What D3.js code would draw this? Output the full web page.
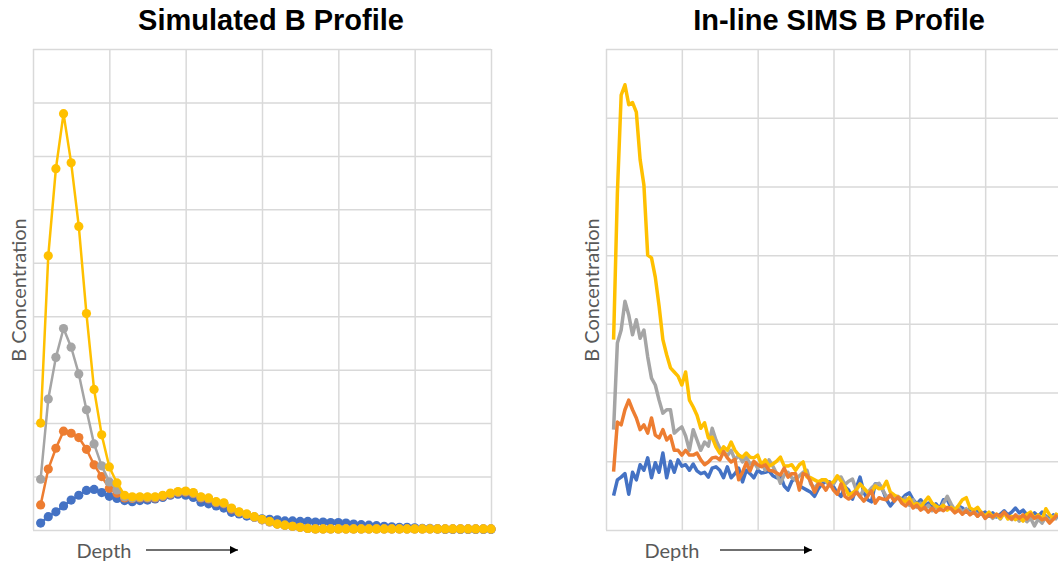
<!DOCTYPE html>
<html>
<head>
<meta charset="utf-8">
<script src="https://cdn.jsdelivr.net/npm/d3@7"></script>
<style>
  body { margin: 0; background: #fff; overflow: hidden; }
  .title { font-family: "Liberation Sans", Arial, sans-serif; font-weight: bold; font-size: 29px; fill: #000; }
  .axis-label { font-family: Lato, "Noto Sans", sans-serif; font-size: 20px; fill: #595959; }
  .grid line { stroke: #d9d9d9; stroke-width: 1.5; }
</style>
</head>
<body>
<svg id="chart" width="1058" height="565"></svg>
<script>
// series order: blue, orange, gray, yellow (Excel default palette)
var seriesColors = ["#4472C4", "#ED7D31", "#A5A5A5", "#FFC000"];

// ---- Simulated profile (60 depth steps) ----
var simDepth = d3.range(1, 61);
var simBlue = [0.13,0.25,0.34,0.45,0.56,0.65,0.74,0.76,0.70,0.63,
  0.59,0.55,0.53,0.55,0.56,0.58,0.61,0.65,0.67,0.65,
  0.61,0.52,0.49,0.45,0.41,0.33,0.30,0.26,0.24,0.21,
  0.20,0.19,0.17,0.17,0.16,0.16,0.15,0.15,0.14,0.14,
  0.13,0.11,0.10,0.09,0.08,0.07,0.06,0.05,0.05,0.04,
  0.03,0.03,0.02,0.01,0.01,0.01,0.01,0.01,0.01,0.01];
var simOrange = [0.47,1.14,1.53,1.85,1.81,1.73,1.51,1.22,1.00,0.78,
  0.69,0.60,0.59,0.60,0.60,0.60,0.63,0.67,0.70,0.71,
  0.68,0.60,0.58,0.51,0.49,0.39,0.33,0.29,0.24,0.19,
  0.15,0.11,0.09,0.07,0.05,0.03,0.02,0.02,0.02,0.02,
  0.02,0.02,0.02,0.02,0.02,0.02,0.02,0.02,0.02,0.02,
  0.02,0.02,0.02,0.02,0.02,0.02,0.02,0.02,0.02,0.02];
var simGray = [0.95,2.45,3.23,3.77,3.42,2.92,2.25,1.61,1.20,0.90,
  0.75,0.62,0.60,0.61,0.61,0.61,0.64,0.68,0.71,0.72,
  0.69,0.61,0.59,0.52,0.50,0.40,0.33,0.29,0.24,0.19,
  0.15,0.11,0.09,0.07,0.05,0.03,0.02,0.02,0.02,0.02,
  0.02,0.02,0.02,0.02,0.02,0.02,0.02,0.02,0.02,0.02,
  0.02,0.02,0.02,0.02,0.02,0.02,0.02,0.02,0.02,0.02];
var simYellow = [2.00,5.13,6.76,7.79,6.87,5.68,4.05,2.63,1.78,1.18,
  0.88,0.65,0.62,0.62,0.62,0.62,0.65,0.69,0.72,0.73,
  0.70,0.62,0.60,0.53,0.51,0.41,0.34,0.30,0.25,0.20,
  0.16,0.11,0.09,0.07,0.05,0.03,0.02,0.02,0.02,0.02,
  0.02,0.02,0.02,0.02,0.02,0.02,0.02,0.02,0.02,0.02,
  0.02,0.02,0.02,0.02,0.02,0.02,0.02,0.02,0.02,0.02];

// ---- In-line SIMS profile (measured depth steps 2..119) ----
var simsDepth = d3.range(2, 120);
var simsBlue = [0.50,0.73,0.77,0.82,0.52,0.84,0.73,0.95,0.87,1.05,
  0.76,0.98,0.84,1.12,0.76,1.00,0.84,1.02,0.93,0.95,
  0.87,0.96,0.86,0.82,0.84,0.77,0.90,0.92,0.87,0.76,
  0.92,0.76,0.82,0.90,0.70,0.87,0.82,0.76,0.87,0.83,
  0.84,0.86,0.79,0.76,0.80,0.64,0.58,0.71,0.76,0.64,
  0.61,0.58,0.55,0.49,0.60,0.67,0.71,0.70,0.63,0.54,
  0.49,0.63,0.58,0.45,0.61,0.77,0.55,0.44,0.41,0.67,
  0.67,0.58,0.44,0.35,0.42,0.48,0.45,0.51,0.54,0.44,
  0.38,0.44,0.35,0.39,0.32,0.38,0.31,0.44,0.44,0.33,
  0.28,0.35,0.32,0.26,0.31,0.25,0.29,0.23,0.26,0.20,
  0.25,0.19,0.23,0.28,0.22,0.26,0.32,0.25,0.29,0.22,
  0.19,0.25,0.20,0.26,0.20,0.16,0.22,0.17];
var simsOrange = [0.85,1.57,1.53,1.75,1.89,1.75,1.63,1.46,1.53,1.41,
  1.63,1.38,1.34,1.46,1.31,1.37,1.16,1.16,1.09,1.16,
  1.09,1.09,1.12,1.02,0.95,0.99,1.05,1.06,1.02,1.14,
  1.05,0.99,1.03,0.73,0.84,0.98,0.86,1.00,0.95,0.92,
  0.95,0.87,0.86,0.83,0.80,0.90,0.77,0.82,0.82,0.58,
  0.82,0.80,0.70,0.55,0.67,0.66,0.58,0.68,0.58,0.52,
  0.67,0.49,0.45,0.49,0.55,0.49,0.42,0.49,0.57,0.39,
  0.47,0.45,0.44,0.51,0.42,0.48,0.39,0.35,0.41,0.32,
  0.36,0.29,0.33,0.26,0.32,0.26,0.31,0.28,0.33,0.31,
  0.25,0.29,0.23,0.28,0.22,0.26,0.20,0.25,0.17,0.22,
  0.19,0.23,0.20,0.26,0.20,0.16,0.22,0.17,0.22,0.16,
  0.23,0.17,0.20,0.15,0.17,0.10,0.16,0.22];
var simsGray = [1.46,2.72,2.91,3.33,3.13,2.84,3.06,2.79,2.91,2.52,
  2.21,2.11,1.89,1.70,1.75,1.75,1.41,1.46,1.50,1.37,
  1.16,1.46,1.31,1.16,1.28,1.22,1.48,1.31,1.19,1.14,
  1.08,1.16,1.02,1.09,0.99,1.06,0.96,0.99,0.90,0.98,
  0.87,1.02,0.93,0.82,0.68,0.80,0.84,0.76,0.73,0.79,
  0.84,0.87,0.67,0.61,0.68,0.73,0.71,0.64,0.67,0.76,
  0.77,0.66,0.71,0.74,0.58,0.48,0.60,0.54,0.61,0.66,
  0.68,0.58,0.48,0.51,0.44,0.49,0.41,0.47,0.36,0.44,
  0.33,0.39,0.31,0.36,0.28,0.35,0.29,0.39,0.49,0.38,
  0.29,0.33,0.26,0.31,0.23,0.28,0.20,0.26,0.17,0.23,
  0.17,0.22,0.16,0.25,0.19,0.15,0.20,0.13,0.19,0.12,
  0.17,0.06,0.16,0.10,0.19,0.13,0.20,0.15];
var simsYellow = [2.77,4.90,6.33,6.48,6.19,6.22,6.08,5.39,5.02,4.00,
  3.96,3.68,3.26,2.77,2.55,2.36,2.30,2.24,2.11,2.30,
  1.89,1.79,1.67,1.48,1.56,1.34,1.35,1.21,1.12,1.21,
  1.16,1.28,1.16,1.09,1.06,1.12,1.06,1.05,1.09,0.95,
  1.02,0.93,0.96,1.00,1.06,0.93,0.93,0.95,0.87,0.95,
  0.99,0.77,0.76,0.73,0.70,0.73,0.73,0.67,0.70,0.79,
  0.71,0.63,0.51,0.54,0.58,0.67,0.61,0.55,0.54,0.64,
  0.60,0.61,0.71,0.55,0.51,0.48,0.44,0.41,0.47,0.36,
  0.39,0.33,0.41,0.48,0.39,0.35,0.32,0.36,0.29,0.33,
  0.29,0.36,0.44,0.47,0.32,0.29,0.33,0.25,0.20,0.26,
  0.19,0.23,0.17,0.25,0.16,0.20,0.15,0.19,0.13,0.23,
  0.26,0.17,0.22,0.15,0.31,0.22,0.16,0.25];

var titles = ["Simulated B Profile", "In-line SIMS B Profile"];
var yLabel = "B Concentration";
var xLabel = "Depth";

var svg = d3.select("#chart");

svg.append("defs").append("marker")
    .attr("id", "arrowhead")
    .attr("viewBox", "0 0 10 10")
    .attr("refX", 10).attr("refY", 5)
    .attr("markerWidth", 10).attr("markerHeight", 8)
    .attr("markerUnits", "userSpaceOnUse")
    .attr("orient", "auto")
    .append("path")
    .attr("d", "M0,0L10,5L0,10Z")
    .attr("fill", "#000");

function drawFrame(x, y, xTicks, yTicks, title, titleX, labelX, depthX, arrowFrom, arrowTo) {
    var top = y.range()[1], bottom = y.range()[0];
    var left = x.range()[0], right = x.range()[1];

    svg.append("g").attr("class", "grid")
        .attr("transform", `translate(0,${bottom})`)
        .call(d3.axisBottom(x).tickValues(xTicks).tickSize(-(bottom - top)).tickFormat(""))
        .call(g => g.select(".domain").remove());

    svg.append("g").attr("class", "grid")
        .attr("transform", `translate(${left},0)`)
        .call(d3.axisLeft(y).tickValues(yTicks).tickSize(-(right - left)).tickFormat(""))
        .call(g => g.select(".domain").remove());

    svg.append("text").attr("class", "title")
        .attr("x", titleX).attr("y", 30)
        .attr("text-anchor", "middle")
        .text(title);

    svg.append("text").attr("class", "axis-label")
        .attr("transform", `translate(${labelX},290) rotate(-90)`)
        .attr("text-anchor", "middle")
        .text(yLabel);

    svg.append("text").attr("class", "axis-label")
        .attr("x", depthX).attr("y", 558)
        .attr("text-anchor", "middle")
        .text(xLabel);

    svg.append("line")
        .attr("x1", arrowFrom).attr("x2", arrowTo)
        .attr("y1", 550).attr("y2", 550)
        .attr("stroke", "#404040")
        .attr("stroke-width", 1.3)
        .attr("marker-end", "url(#arrowhead)");
}

// left chart
var xL = d3.scaleLinear().domain([0, 60]).range([33, 491]);
var yL = d3.scaleLinear().domain([0, 9]).range([530, 49]);
drawFrame(xL, yL, d3.range(0, 61, 10), d3.range(0, 10, 1), titles[0], 271, 26, 104, 146, 238);

var simSeries = [simBlue, simOrange, simGray, simYellow];
var lineL = d3.line().x(d => xL(d[0])).y(d => yL(d[1]));

simSeries.forEach(function(vals, k) {
    var pts = simDepth.map((d, i) => [d, vals[i]]);
    var g = svg.append("g");
    g.append("path")
        .datum(pts)
        .attr("d", lineL)
        .attr("fill", "none")
        .attr("stroke", seriesColors[k])
        .attr("stroke-width", 2.5)
        .attr("stroke-linejoin", "round");
    g.selectAll("circle")
        .data(pts)
        .enter()
        .append("circle")
        .attr("cx", d => xL(d[0]))
        .attr("cy", d => yL(d[1]))
        .attr("r", 4.6)
        .attr("fill", seriesColors[k]);
});

// right chart
var xR = d3.scaleLinear().domain([0, 120]).range([606, 1061]);
var yR = d3.scaleLinear().domain([0, 7]).range([530, 49]);
drawFrame(xR, yR, d3.range(0, 121, 20), d3.range(0, 8, 1), titles[1], 839, 599, 672, 720, 812);

var lineR = d3.line().x(d => xR(d[0])).y(d => yR(d[1]));
// drawing order as in the picture: blue, gray, yellow, orange
[[simsBlue, 0], [simsGray, 2], [simsYellow, 3], [simsOrange, 1]].forEach(function(s) {
    var pts = simsDepth.map((d, i) => [d, s[0][i]]);
    svg.append("path")
        .datum(pts)
        .attr("d", lineR)
        .attr("fill", "none")
        .attr("stroke", seriesColors[s[1]])
        .attr("stroke-width", 3.5)
        .attr("stroke-linejoin", "round");
});
</script>
</body>
</html>
